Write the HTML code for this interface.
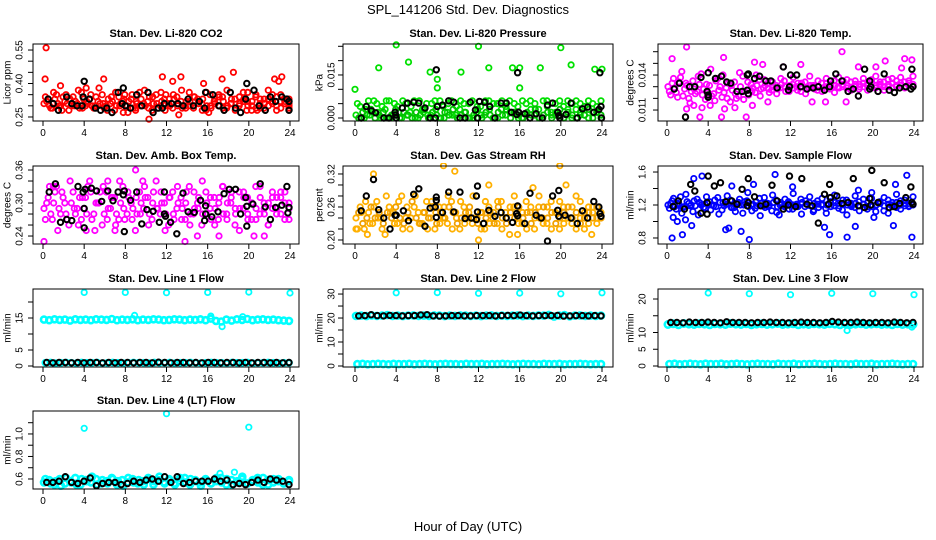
<!DOCTYPE html>
<html><head><meta charset="utf-8"><title>SPL_141206 Std. Dev. Diagnostics</title>
<style>
html,body{margin:0;padding:0;background:#fff;}
svg{display:block;font-family:"Liberation Sans",sans-serif;}
</style></head>
<body>
<svg id="fig" width="936" height="540" viewBox="0 0 936 540">
<text x="468" y="14" text-anchor="middle" font-size="13">SPL_141206  Std. Dev. Diagnostics</text>
<text x="468" y="531" text-anchor="middle" font-size="13">Hour of Day (UTC)</text>
</svg>
<script>
// ---------- data ----------
const hourTicks = [0,4,8,12,16,20,24];

// P1 CO2
const co2BandA = [0.31,0.33,0.29,0.35,0.30,0.32,0.28,0.34,0.31,0.36,0.30,0.33,0.29,0.32,0.35,0.30,0.31,0.28,0.34,0.32,0.30,0.33,0.29,0.36,0.31,0.32,0.28,0.35,0.30,0.33,0.31,0.29,0.34,0.32,0.30,0.36,0.29,0.33,0.31,0.28,0.35,0.32,0.30,0.34,0.29,0.31,0.33,0.30,0.36,0.32,0.28,0.34,0.31,0.29,0.33,0.35,0.30,0.32,0.31,0.33];
const co2BandB = [0.34,0.30,0.36,0.31,0.28,0.35,0.33,0.30,0.37,0.29,0.32,0.35,0.30,0.38,0.31,0.28,0.34,0.36,0.30,0.33,0.27,0.35,0.32,0.30,0.37,0.29,0.34,0.31,0.36,0.28,0.33,0.35,0.30,0.37,0.29,0.32,0.34,0.31,0.28,0.36,0.30,0.33,0.35,0.29,0.37,0.31,0.28,0.34,0.32,0.36,0.30,0.35,0.29,0.33,0.37,0.31,0.28,0.35,0.32,0.30];
const co2BandC = [0.32,0.29,0.33,0.30,0.34,0.31,0.30,0.32,0.29,0.33,0.31,0.30,0.34,0.31,0.29,0.33,0.32,0.30,0.31,0.35,0.32,0.29,0.31,0.33,0.30,0.34,0.31,0.29,0.32,0.35,0.30,0.33,0.31,0.29,0.32,0.30,0.34,0.31,0.33,0.30,0.29,0.31,0.34,0.32,0.30,0.33,0.29,0.31,0.33,0.30,0.32,0.29,0.33,0.31,0.30,0.32,0.34,0.29,0.33,0.31];
const co2OutHours = [0.3,0.2,1.7,4.2,5.9,7.8,9.0,10.3,11.6,12.6,13.2,13.4,15.6,16.1,17.4,18.5,19.8,20.8,22.5,22.9,23.2,23.9];
const co2OutVals = [0.56,0.42,0.39,0.38,0.42,0.27,0.28,0.24,0.43,0.41,0.26,0.43,0.40,0.27,0.42,0.45,0.28,0.28,0.42,0.41,0.43,0.29];
const co2BlackHours = [0.5,1.0,1.5,2.3,2.8,3.3,3.8,3.9,4.0,4.5,5.1,5.6,6.2,6.7,7.3,7.7,7.8,8.0,8.5,9.1,9.6,10.2,10.7,11.2,11.6,11.8,12.5,13.1,13.6,14.1,14.6,15.2,15.7,15.8,16.5,17.1,17.6,18.2,18.7,19.2,19.7,19.8,20.5,21.0,21.6,22.1,22.6,23.2,23.7,23.9,23.9];
const co2BlackVals = [0.33,0.31,0.28,0.34,0.31,0.30,0.30,0.34,0.41,0.33,0.29,0.28,0.29,0.27,0.36,0.31,0.38,0.30,0.29,0.35,0.30,0.36,0.27,0.29,0.29,0.31,0.31,0.31,0.30,0.33,0.30,0.32,0.29,0.36,0.35,0.30,0.28,0.36,0.29,0.27,0.33,0.40,0.37,0.30,0.28,0.34,0.32,0.34,0.33,0.32,0.28];

// P2 Pressure
const presBandA = [0.001,0.004,0.0,0.006,0.002,0.005,0.0,0.003,0.006,0.001,0.004,0.0,0.005,0.002,0.006,0.0,0.003,0.005,0.001,0.006,0.0,0.004,0.002,0.006,0.001,0.003,0.005,0.0,0.006,0.002,0.004,0.001,0.006,0.0,0.005,0.003,0.001,0.006,0.002,0.004,0.0,0.005,0.006,0.001,0.003,0.0,0.006,0.002,0.005,0.001,0.004,0.006,0.0,0.003,0.005,0.001,0.006,0.002,0.004,0.0];
const presBandB = [0.005,0.0,0.003,0.001,0.006,0.002,0.004,0.006,0.0,0.005,0.002,0.006,0.001,0.004,0.0,0.006,0.002,0.001,0.005,0.003,0.006,0.0,0.005,0.001,0.004,0.006,0.002,0.005,0.0,0.004,0.001,0.006,0.003,0.005,0.0,0.006,0.004,0.002,0.005,0.0,0.006,0.001,0.003,0.005,0.0,0.006,0.004,0.001,0.002,0.006,0.0,0.003,0.005,0.006,0.001,0.004,0.0,0.005,0.002,0.006];
const presBandC = [0.0,0.002,0.001,0.003,0.0,0.001,0.002,0.0,0.001,0.003,0.0,0.002,0.001,0.0,0.002,0.001,0.003,0.0,0.002,0.001,0.0,0.002,0.001,0.003,0.0,0.001,0.002,0.0,0.001,0.003,0.0,0.002,0.001,0.0,0.002,0.001,0.003,0.0,0.002,0.001,0.0,0.002,0.001,0.003,0.0,0.001,0.002,0.0,0.001,0.003,0.0,0.002,0.001,0.0,0.002,0.001,0.003,0.0,0.002,0.001];
const presOutHours = [0.0,4.0,5.2,2.3,7.3,8.0,8.0,10.3,12.0,13.0,15.3,16.0,16.0,18.0,20.0,21.0,23.3,24.0];
const presOutVals = [0.010,0.0255,0.0195,0.0175,0.016,0.0135,0.0105,0.016,0.025,0.0175,0.0175,0.0175,0.0105,0.0175,0.0245,0.0185,0.017,0.017];
const presBlackHours = [0.6,1.1,1.6,2.0,2.8,3.3,3.9,3.95,4.0,4.6,5.1,5.7,6.2,6.8,7.3,7.8,7.9,8.0,8.5,9.1,9.6,10.2,10.7,11.2,11.7,11.9,12.1,12.6,13.1,13.6,14.2,14.7,15.2,15.7,15.8,15.9,16.5,17.0,17.6,18.2,18.7,19.2,19.7,19.8,19.9,20.5,21.0,21.6,22.1,22.6,23.2,23.7,23.8,23.9,23.95];
const presBlackVals = [0.0,0.004,0.0025,0.0018,0.0,0.0,0.002,0.001,0.0,0.0035,0.0052,0.0055,0.0052,0.0035,0.0,0.0,0.0168,0.004,0.0045,0.006,0.0055,0.0,0.0,0.0055,0.0028,0.0,0.0058,0.0055,0.004,0.0,0.0052,0.0052,0.002,0.0012,0.0158,0.002,0.0015,0.0,0.0015,0.0,0.0045,0.0052,0.002,0.0008,0.0,0.0012,0.0052,0.0,0.0032,0.0038,0.002,0.003,0.0158,0.004,0.0];

// P3 Temp
const tempBandA = [0.0130,0.0133,0.0125,0.0138,0.0128,0.0120,0.0135,0.0126,0.0141,0.0119,0.0131,0.0124,0.0137,0.0121,0.0129,0.0117,0.0134,0.0122,0.0139,0.0127,0.0132,0.0125,0.0136,0.0129,0.0133,0.0127,0.0131,0.0129,0.0135,0.0128,0.0132,0.0130,0.0126,0.0134,0.0129,0.0131,0.0127,0.0133,0.0130,0.0128,0.0135,0.0130,0.0132,0.0129,0.0134,0.0130,0.0128,0.0133,0.0131,0.0136,0.0129,0.0132,0.0134,0.0130,0.0137,0.0131,0.0133,0.0129,0.0135,0.0132];
const tempBandB = [0.0126,0.0137,0.0121,0.0143,0.0133,0.0116,0.0128,0.0139,0.0123,0.0132,0.0145,0.0118,0.0127,0.0140,0.0120,0.0131,0.0124,0.0142,0.0119,0.0134,0.0126,0.0140,0.0122,0.0136,0.0128,0.0134,0.0124,0.0137,0.0130,0.0126,0.0138,0.0127,0.0133,0.0124,0.0139,0.0130,0.0135,0.0126,0.0137,0.0132,0.0125,0.0138,0.0130,0.0136,0.0127,0.0135,0.0132,0.0137,0.0127,0.0134,0.0139,0.0131,0.0127,0.0136,0.0133,0.0130,0.0138,0.0134,0.0131,0.0139];
const tempBandC = [0.0123,0.0129,0.0134,0.0122,0.0131,0.0126,0.0124,0.0132,0.0128,0.0125,0.0122,0.0135,0.0130,0.0125,0.0133,0.0127,0.0120,0.0130,0.0126,0.0123,0.0129,0.0131,0.0128,0.0131,0.0125,0.0130,0.0128,0.0132,0.0126,0.0131,0.0129,0.0133,0.0130,0.0128,0.0131,0.0128,0.0130,0.0129,0.0133,0.0130,0.0131,0.0129,0.0135,0.0131,0.0129,0.0132,0.0130,0.0130,0.0133,0.0129,0.0131,0.0134,0.0130,0.0132,0.0129,0.0135,0.0131,0.0130,0.0133,0.0130];
const tempOutHours = [0.5,1.9,1.9,2.6,3.2,3.4,4.2,5.3,5.5,5.6,6.6,7.7,8.3,8.5,9.3,9.8,11.3,13.0,14.1,15.4,17.0,17.4,18.6,20.3,21.2,22.8,23.1,23.8];
const tempOutVals = [0.0154,0.0164,0.0111,0.0114,0.0104,0.0112,0.0114,0.0104,0.0155,0.0111,0.0112,0.0104,0.0114,0.0151,0.0149,0.0117,0.0147,0.0149,0.0117,0.0117,0.0160,0.0117,0.0147,0.0147,0.0152,0.0146,0.0154,0.0153];
const tempBlackHours = [0.7,1.2,1.8,2.2,2.7,3.3,3.9,4.0,4.0,4.0,4.7,5.3,5.8,6.2,6.8,7.3,7.8,7.9,7.8,7.9,8.5,9.0,9.6,10.1,10.7,11.3,11.8,11.9,12.0,12.6,13.0,13.6,14.2,14.7,15.3,15.8,15.9,16.4,17.0,17.6,18.1,18.6,19.2,19.7,19.7,19.8,20.5,21.1,21.6,22.1,22.6,23.2,23.7,23.8,23.9];
const tempBlackVals = [0.0128,0.0133,0.0104,0.0130,0.0130,0.0138,0.0126,0.0121,0.0123,0.0142,0.0137,0.0139,0.0134,0.0133,0.0126,0.0126,0.0127,0.0124,0.0140,0.0141,0.0137,0.0139,0.0135,0.0135,0.0129,0.0147,0.0127,0.0130,0.0140,0.0140,0.0130,0.0128,0.0129,0.0130,0.0127,0.0130,0.0135,0.0141,0.0135,0.0126,0.0128,0.0122,0.0145,0.0128,0.0135,0.0130,0.0126,0.0141,0.0127,0.0125,0.0129,0.0130,0.0128,0.0145,0.0130];

// P4 Amb Box Temp
const ambBandA = [0.29,0.31,0.27,0.33,0.28,0.30,0.26,0.32,0.29,0.27,0.31,0.34,0.28,0.30,0.26,0.32,0.29,0.31,0.27,0.33,0.28,0.30,0.25,0.32,0.29,0.31,0.27,0.34,0.28,0.30,0.26,0.32,0.29,0.31,0.27,0.33,0.28,0.30,0.26,0.32,0.29,0.31,0.27,0.33,0.28,0.30,0.26,0.32,0.29,0.31,0.27,0.33,0.28,0.30,0.26,0.32,0.29,0.31,0.27,0.30];
const ambBandB = [0.27,0.33,0.30,0.25,0.32,0.28,0.34,0.29,0.26,0.31,0.28,0.32,0.25,0.30,0.33,0.27,0.31,0.26,0.34,0.29,0.32,0.27,0.31,0.28,0.33,0.26,0.30,0.29,0.32,0.25,0.31,0.28,0.33,0.27,0.30,0.26,0.32,0.29,0.34,0.28,0.31,0.26,0.30,0.33,0.27,0.31,0.29,0.25,0.32,0.28,0.30,0.27,0.33,0.29,0.26,0.31,0.28,0.32,0.30,0.27];
const ambBandC = [0.30,0.28,0.32,0.29,0.31,0.27,0.30,0.28,0.31,0.29,0.33,0.27,0.30,0.32,0.28,0.29,0.31,0.28,0.30,0.27,0.31,0.29,0.28,0.30,0.31,0.28,0.32,0.29,0.30,0.28,0.31,0.27,0.30,0.29,0.32,0.28,0.29,0.31,0.28,0.30,0.27,0.29,0.31,0.28,0.30,0.32,0.28,0.29,0.31,0.27,0.30,0.29,0.31,0.28,0.30,0.29,0.31,0.28,0.32,0.29];
const ambOutHours = [0.1,1.0,9.0,9.7,13.8,15.0,17.1,20.5,21.5,6.3,4.2,7.0];
const ambOutVals = [0.23,0.33,0.36,0.34,0.23,0.24,0.24,0.24,0.24,0.34,0.25,0.25];
const ambBlackHours = [0.6,1.2,1.7,2.3,2.8,3.4,3.9,4.0,4.0,4.1,4.7,5.2,5.7,6.3,6.8,7.3,7.8,7.9,7.9,8.5,9.1,9.6,10.1,10.7,11.3,11.8,11.8,11.9,12.4,13.0,13.6,14.1,14.7,15.3,15.7,15.8,15.8,16.4,17.0,17.6,18.1,18.7,19.2,19.7,19.8,19.8,20.4,21.1,21.6,22.1,22.6,23.2,23.7,23.8,23.9];
const ambBlackVals = [0.32,0.335,0.265,0.27,0.268,0.33,0.32,0.29,0.255,0.325,0.327,0.322,0.303,0.322,0.304,0.32,0.315,0.322,0.248,0.305,0.32,0.262,0.288,0.285,0.265,0.28,0.32,0.276,0.265,0.244,0.318,0.284,0.283,0.305,0.268,0.28,0.295,0.275,0.284,0.317,0.325,0.325,0.28,0.31,0.294,0.258,0.298,0.335,0.293,0.27,0.292,0.296,0.33,0.282,0.292];

// P5 Gas stream RH
const rhBandA = [0.24,0.26,0.22,0.25,0.23,0.27,0.24,0.21,0.26,0.25,0.23,0.28,0.24,0.22,0.26,0.25,0.23,0.27,0.24,0.22,0.26,0.24,0.23,0.27,0.25,0.22,0.26,0.24,0.23,0.28,0.25,0.22,0.26,0.24,0.23,0.27,0.25,0.21,0.26,0.24,0.23,0.27,0.25,0.22,0.26,0.24,0.23,0.27,0.25,0.22,0.26,0.24,0.23,0.28,0.24,0.22,0.26,0.25,0.23,0.24];
const rhBandB = [0.22,0.25,0.27,0.23,0.26,0.24,0.22,0.28,0.25,0.23,0.27,0.22,0.26,0.24,0.28,0.23,0.25,0.22,0.27,0.25,0.23,0.26,0.28,0.22,0.24,0.27,0.23,0.25,0.28,0.24,0.22,0.27,0.23,0.25,0.27,0.22,0.24,0.26,0.28,0.23,0.25,0.22,0.26,0.24,0.28,0.23,0.26,0.22,0.25,0.27,0.23,0.24,0.26,0.22,0.27,0.25,0.23,0.26,0.24,0.25];
const rhBandC = [0.25,0.23,0.24,0.26,0.24,0.25,0.23,0.25,0.24,0.26,0.24,0.23,0.25,0.27,0.24,0.23,0.25,0.24,0.26,0.23,0.25,0.24,0.26,0.25,0.23,0.24,0.25,0.26,0.24,0.23,0.25,0.24,0.25,0.23,0.26,0.24,0.23,0.25,0.24,0.26,0.24,0.25,0.23,0.25,0.24,0.26,0.24,0.25,0.23,0.24,0.25,0.26,0.24,0.25,0.23,0.24,0.25,0.24,0.26,0.24];
const rhOutHours = [1.8,8.6,9.7,13.0,17.3,19.9,20.5,23.0,12.0,15.8,1.2,0.1];
const rhOutVals = [0.32,0.335,0.325,0.30,0.295,0.335,0.30,0.21,0.20,0.21,0.21,0.22];
const rhBlackHours = [0.6,1.1,1.8,2.3,2.8,3.4,3.9,4.0,4.7,5.2,5.7,6.2,6.8,7.3,7.8,7.9,7.9,7.9,8.5,9.1,9.6,10.2,10.7,11.3,11.8,11.8,11.9,11.9,12.5,13.0,13.6,14.2,14.7,15.3,15.7,15.8,15.8,16.5,17.0,17.6,18.1,18.7,19.2,19.7,19.8,19.8,20.4,21.0,21.6,22.1,22.6,23.2,23.7,23.8,23.9];
const rhBlackVals = [0.253,0.28,0.31,0.255,0.24,0.22,0.245,0.245,0.253,0.235,0.283,0.293,0.225,0.258,0.26,0.278,0.272,0.241,0.25,0.287,0.251,0.287,0.239,0.24,0.237,0.28,0.251,0.298,0.23,0.254,0.243,0.25,0.24,0.232,0.248,0.244,0.262,0.23,0.285,0.245,0.24,0.198,0.28,0.254,0.243,0.29,0.245,0.24,0.23,0.253,0.24,0.27,0.26,0.248,0.243];

// P6 Sample flow
const sfBandA = [1.20,1.25,1.15,1.30,1.18,1.22,1.12,1.27,1.20,1.16,1.24,1.19,1.29,1.14,1.21,1.26,1.17,1.23,1.10,1.25,1.20,1.16,1.28,1.19,1.22,1.13,1.26,1.20,1.18,1.24,1.15,1.21,1.27,1.18,1.23,1.12,1.25,1.20,1.16,1.29,1.19,1.22,1.14,1.26,1.20,1.17,1.24,1.21,1.15,1.28,1.19,1.23,1.13,1.26,1.20,1.17,1.25,1.22,1.18,1.21];
const sfBandB = [1.16,1.28,1.22,1.10,1.33,1.19,1.25,1.08,1.21,1.30,1.14,1.26,1.09,1.23,1.31,1.17,1.12,1.27,1.20,1.35,1.13,1.24,1.07,1.29,1.18,1.32,1.11,1.23,1.27,1.15,1.34,1.19,1.09,1.25,1.30,1.14,1.21,1.28,1.10,1.24,1.32,1.16,1.26,1.08,1.22,1.31,1.13,1.27,1.18,1.35,1.12,1.24,1.29,1.10,1.23,1.33,1.15,1.26,1.19,1.30];
const sfBandC = [1.22,1.18,1.21,1.17,1.24,1.20,1.19,1.23,1.17,1.22,1.20,1.18,1.23,1.19,1.21,1.17,1.22,1.20,1.24,1.18,1.21,1.19,1.22,1.17,1.20,1.23,1.18,1.21,1.19,1.22,1.20,1.18,1.23,1.21,1.19,1.22,1.17,1.21,1.20,1.18,1.23,1.19,1.21,1.20,1.18,1.22,1.19,1.21,1.23,1.18,1.20,1.22,1.19,1.21,1.18,1.23,1.20,1.19,1.22,1.20];
const sfOutHours = [0.5,0.6,1.0,1.5,1.8,2.4,2.6,3.4,5.7,6.0,7.2,8.0,8.4,10.5,12.2,15.3,15.8,17.5,18.3,18.6,20.1,22.0,22.2,23.3,23.8,6.3,10.9];
const sfOutVals = [0.80,1.05,1.00,0.84,1.02,0.95,1.52,1.55,0.90,0.92,0.88,0.78,1.45,1.57,1.42,0.93,0.84,0.81,0.94,1.38,1.05,0.95,1.45,1.56,0.81,1.43,1.08];
const sfBlackHours = [0.6,1.1,1.7,2.3,2.7,3.3,3.9,3.9,4.0,4.6,5.2,5.7,6.3,6.8,7.3,7.8,7.9,7.9,8.5,9.1,9.6,10.2,10.7,11.3,11.8,11.9,12.5,13.1,13.6,14.1,14.7,15.3,15.7,15.8,15.9,16.5,17.0,17.6,18.1,18.6,19.2,19.7,19.8,19.9,20.5,21.1,21.6,22.1,22.6,23.2,23.7,23.8,23.9];
const sfBlackVals = [1.18,1.25,1.15,1.45,1.37,1.10,1.09,1.23,1.55,1.43,1.47,1.24,1.25,1.21,1.39,1.19,1.52,1.23,1.30,1.19,1.21,1.44,1.25,1.15,1.20,1.55,1.18,1.52,1.21,1.19,0.98,1.33,1.21,1.45,1.29,1.31,1.22,1.23,1.52,1.19,1.17,1.28,1.20,1.62,1.23,1.47,1.17,1.18,1.22,1.29,1.42,1.23,1.21];

// P7 Line 1
const l1High = [14.5,14.3,14.6,14.4,14.5,14.2,14.6,14.4,14.5,14.3,14.6,14.5,14.4,14.7,14.3,14.5,14.4,14.6,14.3,14.5,14.4,14.6,14.5,14.3,14.4,14.6,14.5,14.3,14.5,14.4,14.6,14.3,14.8,14.1,13.9,14.5,14.2,14.6,14.4,14.7,14.3,14.5,14.6,14.4,14.5,14.3,14.2,14.1];
const l1Low = [1.0,1.1,0.9,1.0,1.1,1.0,0.9,1.1,1.0,1.0,1.1,0.9,1.0,1.1,1.0,0.9,1.0,1.1,1.0,1.0,0.9,1.1,1.0,1.0,1.1,0.9,1.0,1.0,1.1,1.0,0.9,1.0,1.1,1.0,1.0,0.9,1.1,1.0,1.0,1.1,0.9,1.0,1.0,1.1,1.0,0.9,1.0,1.0];
const l1OutHours = [4,8,12,16,20,24,17.4,8.9,16.3,19.4];
const l1OutVals = [23.0,23.0,22.9,23.0,23.1,22.8,12.3,15.8,15.6,15.4];
const l1BlackVals = [1.1,1.0,1.1,1.1,1.0,1.1,1.0,1.1,1.1,1.0,1.1,1.0,1.1,1.1,1.0,1.1,1.1,1.0,1.2,1.1,1.0,1.1,1.1,1.0,1.1,1.0,1.1,1.1,1.0,1.1,1.1,1.0,1.1,1.0,1.1,1.1,1.0,1.1,1.0,1.1];

// P8 Line 2
const l2High = [20.9,21.0,20.8,21.1,20.9,21.0,21.2,20.9,21.0,20.8,21.0,21.1,20.9,21.0,20.9,21.1,21.0,20.8,21.0,20.9,21.1,21.0,20.9,21.0,20.8,21.0,21.1,20.9,21.0,20.9,21.0,21.1,20.8,21.0,20.9,21.1,21.0,21.3,20.6,21.0,21.2,20.7,21.0,21.1,20.9,21.0,20.9,21.0];
const l2Low = [0.8,0.9,0.7,0.8,0.9,0.8,0.7,0.9,0.8,0.8,0.9,0.7,0.8,0.9,0.8,0.7,0.8,0.9,0.8,0.8,0.7,0.9,0.8,0.8,0.9,0.7,0.8,0.8,0.9,0.8,0.7,0.8,0.9,0.8,0.8,0.7,0.9,0.8,0.8,0.9,0.7,0.8,0.8,0.9,0.8,0.7,0.8,0.8];
const l2OutHours = [4,8,12,16,20,24];
const l2OutVals = [30.5,30.6,30.3,30.4,30.1,30.5];
const l2BlackVals = [20.9,21.0,21.4,21.0,20.9,21.1,21.0,20.9,21.0,21.0,21.3,21.4,20.9,20.8,20.9,21.0,21.0,20.9,20.9,21.0,21.0,21.0,20.9,21.0,21.1,21.0,21.2,21.0,20.9,21.0,21.0,21.0,21.1,20.8,20.9,21.0,21.0,20.9,21.0,20.9];

// P9 Line 3
const l3High = [12.4,12.6,12.3,12.7,12.5,12.4,12.6,12.5,12.3,12.6,12.5,12.4,12.7,12.5,12.4,12.6,12.3,12.5,12.6,12.4,12.5,12.7,12.4,12.5,12.6,12.3,12.5,12.4,12.6,12.5,12.4,12.6,12.5,12.3,12.6,12.4,12.5,12.6,12.4,12.5,12.6,12.4,12.5,12.3,12.6,12.4,12.5,12.4];
const l3Low = [0.6,0.7,0.5,0.6,0.7,0.6,0.5,0.7,0.6,0.6,0.7,0.5,0.6,0.7,0.6,0.5,0.6,0.7,0.6,0.6,0.5,0.7,0.6,0.6,0.7,0.5,0.6,0.6,0.7,0.6,0.5,0.6,0.7,0.6,0.6,0.5,0.7,0.6,0.6,0.7,0.5,0.6,0.6,0.7,0.6,0.5,0.6,0.6];
const l3OutHours = [4,8,12,16,20,24,17.5,23.8];
const l3OutVals = [21.8,21.6,21.3,21.7,21.6,21.3,10.6,11.6];
const l3BlackVals = [13.0,13.0,12.9,13.1,13.0,13.0,13.1,13.0,12.9,13.2,13.0,13.0,13.0,12.9,13.0,13.0,13.1,13.0,13.0,12.9,13.0,13.1,13.0,13.0,12.9,13.0,13.3,13.1,13.0,13.0,13.1,13.0,12.9,13.0,13.0,12.9,13.1,13.0,12.9,13.0];

// P10 Line 4 (LT)
const l4Band = [0.57,0.59,0.55,0.60,0.56,0.58,0.61,0.55,0.59,0.57,0.60,0.56,0.58,0.61,0.55,0.59,0.57,0.60,0.56,0.58,0.61,0.55,0.59,0.57,0.60,0.56,0.58,0.61,0.55,0.59,0.57,0.60,0.56,0.58,0.61,0.55,0.59,0.57,0.60,0.56,0.58,0.61,0.55,0.59,0.57,0.60,0.56,0.58];
const l4BandB = [0.60,0.56,0.58,0.54,0.61,0.57,0.55,0.60,0.58,0.62,0.55,0.59,0.56,0.60,0.58,0.54,0.61,0.57,0.59,0.55,0.60,0.58,0.62,0.56,0.59,0.55,0.61,0.57,0.60,0.58,0.54,0.59,0.56,0.61,0.57,0.60,0.55,0.58,0.62,0.56,0.59,0.57,0.61,0.55,0.60,0.58,0.56,0.59];
const l4OutHours = [4,12,20,17.2,18.6];
const l4OutVals = [1.05,1.18,1.06,0.65,0.66];
const l4BlackVals = [0.57,0.57,0.58,0.62,0.57,0.56,0.58,0.61,0.54,0.56,0.57,0.57,0.55,0.56,0.58,0.57,0.59,0.60,0.58,0.62,0.57,0.62,0.56,0.57,0.58,0.58,0.58,0.60,0.58,0.59,0.55,0.56,0.55,0.57,0.59,0.57,0.60,0.59,0.58,0.55];

// ---------- rendering ----------
const svg = document.getElementById('fig');
const NS = 'http://www.w3.org/2000/svg';
function mk(tag, attrs, parent){
  const e = document.createElementNS(NS, tag);
  for (const k in attrs) e.setAttribute(k, attrs[k]);
  (parent||svg).appendChild(e);
  return e;
}
const cols = [{l:33,r:299,h0:43,h24:290,lab:20,tit:8},{l:343,r:613,h0:355,h24:602,lab:332,tit:320},{l:658,r:923,h0:667,h24:914,lab:643,tit:631}];
const rows = [{t:44,b:121},{t:166,b:244},{t:289,b:367},{t:411,b:489}];

function evenHours(n, off){ const a=[]; for(let i=0;i<n;i++) a.push(0.1+off+i*(23.8-off)/(n-1)); return a; }

function panel(cfg){
  const c = cols[cfg.col], r = rows[cfg.row];
  const g = mk('g', {});
  
  
  const xs = h => c.h0 + (h/24)*(c.h24-c.h0);
  const ys = v => r.b - (v-cfg.ymin)/(cfg.ymax-cfg.ymin)*(r.b-r.t);
  const t = mk('text', {x:(c.l+c.r)/2, y:r.t-7, 'text-anchor':'middle','font-size':11,'font-weight':'bold'}, g);
  t.textContent = cfg.title;
  
  
  const yt = mk('text', {x:c.tit, y:(r.t+r.b)/2, 'text-anchor':'middle','font-size':10, transform:'rotate(-90 '+c.tit+' '+((r.t+r.b)/2)+')', 'dominant-baseline':'middle'}, g);
  yt.textContent = cfg.ylab;
  
  
  const cid = 'clip'+cfg.col+cfg.row;
  const cp = mk('clipPath', {id:cid}, g);
  mk('rect', {x:c.l, y:r.t-3, width:c.r-c.l, height:r.b-r.t+6}, cp);
  const pts = mk('g', {'clip-path':'url(#'+cid+')', fill:'none'}, g);
  
  
  function draw(hours, vals, color, sw, rad, nm){
    for (let i=0;i<vals.length;i++){
      const p = mk('circle', {cx:xs(hours[i]).toFixed(1), cy:ys(vals[i]).toFixed(1), r:rad, stroke:color, 'stroke-width':sw}, pts);
      
      
    }
  }
  cfg.series.forEach((s, si) => {
    const hrs = s.hours || evenHours(s.vals.length, (si%3)*0.13);
    draw(hrs, s.vals, s.color, s.sw||1.8, s.r||2.7, s.name);
  });
  const box = mk('rect', {x:c.l, y:r.t, width:c.r-c.l, height:r.b-r.t, fill:'none', stroke:'#000','stroke-width':1}, g);
  
  
  hourTicks.forEach(h => {
    const x = xs(h);
    mk('line', {x1:x, x2:x, y1:r.b, y2:r.b+5, stroke:'#000'}, g);
    const tl = mk('text', {x:x, y:r.b+15, 'text-anchor':'middle','font-size':10}, g);
    tl.textContent = h;
    
    
  });
  cfg.yticks.forEach(v => {
    const y = ys(v);
    mk('line', {x1:c.l-5, x2:c.l, y1:y, y2:y, stroke:'#000'}, g);
  });
  cfg.ylabels.forEach(lb => {
    const y = ys(parseFloat(lb));
    const tl = mk('text', {x:c.lab, y:y, 'text-anchor':'middle','font-size':10,'dominant-baseline':'middle', transform:'rotate(-90 '+c.lab+' '+y+')'}, g);
    tl.textContent = lb;
    
    
  });
}

const K='#000';
panel({name:'panel-co2',col:0,row:0,title:'Stan. Dev. Li-820 CO2',ylab:'Licor ppm',ymin:0.232,ymax:0.577,
  yticks:[0.25,0.30,0.35,0.40,0.45,0.50,0.55],ylabels:['0.25','0.40','0.55'],
  series:[{vals:co2BandA,color:'#ff0000',name:'co2-point'},{vals:co2BandB,color:'#ff0000',name:'co2-point'},{vals:co2BandC,color:'#ff0000',name:'co2-point'},{hours:co2OutHours,vals:co2OutVals,color:'#ff0000',name:'co2-point'},{hours:co2BlackHours,vals:co2BlackVals,color:K,sw:2,name:'co2-black-point'}]});
panel({name:'panel-pressure',col:1,row:0,title:'Stan. Dev. Li-820 Pressure',ylab:'kPa',ymin:-0.00105,ymax:0.0258,
  yticks:[0,0.005,0.010,0.015,0.020,0.025],ylabels:['0.000','0.015'],
  series:[{vals:presBandA,color:'#00e000',name:'pressure-point'},{vals:presBandB,color:'#00e000',name:'pressure-point'},{vals:presBandC,color:'#00c000',name:'pressure-point'},{hours:presOutHours,vals:presOutVals,color:'#00e000',name:'pressure-point'},{hours:presBlackHours,vals:presBlackVals,color:K,sw:2,name:'pressure-black-point'}]});
panel({name:'panel-temp',col:2,row:0,title:'Stan. Dev. Li-820 Temp.',ylab:'degrees C',ymin:0.01006,ymax:0.01666,
  yticks:[0.011,0.012,0.013,0.014,0.015,0.016],ylabels:['0.011','0.014'],
  series:[{vals:tempBandA,color:'#ff00ff',name:'temp-point'},{vals:tempBandB,color:'#ff00ff',name:'temp-point'},{vals:tempBandC,color:'#ff00ff',name:'temp-point'},{hours:tempOutHours,vals:tempOutVals,color:'#ff00ff',name:'temp-point'},{hours:tempBlackHours,vals:tempBlackVals,color:K,sw:2,name:'temp-black-point'}]});
panel({name:'panel-amb-box-temp',col:0,row:1,title:'Stan. Dev. Amb. Box Temp.',ylab:'degrees C',ymin:0.2255,ymax:0.3673,
  yticks:[0.24,0.26,0.28,0.30,0.32,0.34,0.36],ylabels:['0.24','0.30','0.36'],
  series:[{vals:ambBandA,color:'#ff00ff',name:'amb-point'},{vals:ambBandB,color:'#ff00ff',name:'amb-point'},{vals:ambBandC,color:'#ff00ff',name:'amb-point'},{hours:ambOutHours,vals:ambOutVals,color:'#ff00ff',name:'amb-point'},{hours:ambBlackHours,vals:ambBlackVals,color:K,sw:2,name:'amb-black-point'}]});
panel({name:'panel-gas-rh',col:1,row:1,title:'Stan. Dev. Gas Stream RH',ylab:'percent',ymin:0.1927,ymax:0.3345,
  yticks:[0.20,0.22,0.24,0.26,0.28,0.30,0.32],ylabels:['0.20','0.26','0.32'],
  series:[{vals:rhBandA,color:'#ffb000',name:'rh-point'},{vals:rhBandB,color:'#ffb000',name:'rh-point'},{vals:rhBandC,color:'#f0a000',name:'rh-point'},{hours:rhOutHours,vals:rhOutVals,color:'#ffb000',name:'rh-point'},{hours:rhBlackHours,vals:rhBlackVals,color:K,sw:2,name:'rh-black-point'}]});
panel({name:'panel-sample-flow',col:2,row:1,title:'Stan. Dev. Sample Flow',ylab:'ml/min',ymin:0.727,ymax:1.673,
  yticks:[0.8,1.0,1.2,1.4,1.6],ylabels:['0.8','1.2','1.6'],
  series:[{vals:sfBandA,color:'#0000ff',name:'sample-flow-point'},{vals:sfBandB,color:'#0000ff',name:'sample-flow-point'},{vals:sfBandC,color:'#0000ff',name:'sample-flow-point'},{hours:sfOutHours,vals:sfOutVals,color:'#0000ff',name:'sample-flow-point'},{hours:sfBlackHours,vals:sfBlackVals,color:K,sw:2,name:'sample-flow-black-point'}]});
panel({name:'panel-line1-flow',col:0,row:2,title:'Stan. Dev. Line 1 Flow',ylab:'ml/min',ymin:-0.31,ymax:24.06,
  yticks:[0,5,10,15,20],ylabels:['0','5','15'],
  series:[{vals:l1High,color:'#00ffff',sw:2.6,r:3,name:'line1-point'},{vals:l1Low,color:'#00ffff',sw:2.4,name:'line1-point'},{vals:l1BlackVals,color:K,sw:2,name:'line1-black-point'},{hours:l1OutHours,vals:l1OutVals,color:'#00ffff',name:'line1-point'}]});
panel({name:'panel-line2-flow',col:1,row:2,title:'Stan. Dev. Line 2 Flow',ylab:'ml/min',ymin:-0.42,ymax:32.1,
  yticks:[0,5,10,15,20,25,30],ylabels:['0','10','20','30'],
  series:[{vals:l2High,color:'#00ffff',sw:2.6,r:3,name:'line2-point'},{vals:l2Low,color:'#00ffff',sw:2.6,r:3,name:'line2-point'},{vals:l2BlackVals,color:K,sw:2,name:'line2-black-point'},{hours:l2OutHours,vals:l2OutVals,color:'#00ffff',name:'line2-point'}]});
panel({name:'panel-line3-flow',col:2,row:2,title:'Stan. Dev. Line 3 Flow',ylab:'ml/min',ymin:-0.3,ymax:22.99,
  yticks:[0,5,10,15,20],ylabels:['0','5','10','20'],
  series:[{vals:l3High,color:'#00ffff',sw:2.6,r:3.2,name:'line3-point'},{vals:l3Low,color:'#00ffff',sw:2.6,r:3,name:'line3-point'},{vals:l3BlackVals,color:K,sw:2,name:'line3-black-point'},{hours:l3OutHours,vals:l3OutVals,color:'#00ffff',name:'line3-point'}]});
panel({name:'panel-line4-flow',col:0,row:3,title:'Stan. Dev. Line 4 (LT) Flow',ylab:'ml/min',ymin:0.511,ymax:1.204,
  yticks:[0.6,0.7,0.8,0.9,1.0,1.1],ylabels:['0.6','0.8','1.0'],
  series:[{vals:l4Band,color:'#00ffff',sw:2.6,r:3,name:'line4-point'},{vals:l4BandB,color:'#00ffff',sw:2.6,r:3,name:'line4-point'},{vals:l4BlackVals,color:K,sw:2,name:'line4-black-point'},{hours:l4OutHours,vals:l4OutVals,color:'#00ffff',name:'line4-point'}]});
</script>
</body></html>
